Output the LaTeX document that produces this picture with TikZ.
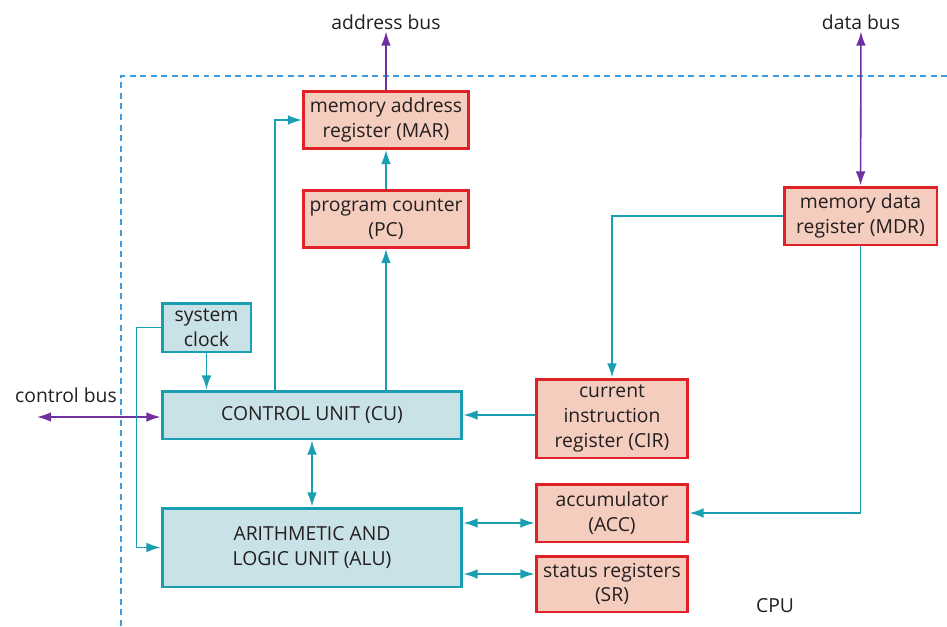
\documentclass[tikz,border=0pt]{standalone}
\usepackage{fontspec}
\setmainfont{Open Sans}
\usepackage{tikz}
\usetikzlibrary{arrows.meta, positioning, calc}

\definecolor{tealline}{HTML}{1A9FB2}
\definecolor{tealfill}{HTML}{C8E2E7}
\definecolor{redline}{HTML}{E02128}
\definecolor{redfill}{HTML}{F5CDBE}
\definecolor{buspurple}{HTML}{7030A0}
\definecolor{frameblue}{HTML}{3A9EE0}
\definecolor{inktext}{HTML}{231F20}

\begin{document}
\begin{tikzpicture}[x=0.02cm, y=-0.02cm,
    every node/.style={font=\fontsize{11}{14}\selectfont, text=inktext, align=center, inner sep=1pt},
    unitbox/.style={draw=tealline, fill=tealfill, line width=1.7pt},
    regbox/.style={draw=redline, fill=redfill, line width=1.7pt},
    link/.style={draw=tealline, line width=0.9pt, -{Latex[length=8pt,width=5.5pt]}},
    dlink/.style={draw=tealline, line width=0.9pt, {Latex[length=8pt,width=5.5pt]}-{Latex[length=8pt,width=5.5pt]}},
    bus/.style={draw=buspurple, line width=0.9pt, -{Latex[length=8pt,width=5.5pt]}},
    dbus/.style={draw=buspurple, line width=0.9pt, {Latex[length=8pt,width=5.5pt]}-{Latex[length=8pt,width=5.5pt]}}]
    \useasboundingbox (0,0) rectangle (947,626);
    \draw[frameblue, line width=1.6pt, dash pattern=on 3.4pt off 2.6pt] (121,626) -- (121,76) -- (947,76);
    \node (cpu) at (775,606) {CPU};

    \node[regbox, minimum width=3.3cm, minimum height=1.14cm] (mar) at (386,120) {memory address\\register (MAR)};
    \node[regbox, minimum width=3.3cm, minimum height=1.14cm] (pc) at (386,219) {program counter\\(PC)};
    \node[regbox, minimum width=3.06cm, minimum height=1.16cm] (mdr) at (860.5,216) {memory data\\register (MDR)};
    \node[unitbox, minimum width=1.78cm, minimum height=0.98cm] (clock) at (206.5,327.5) {system\\clock};
    \node[unitbox, minimum width=6cm, minimum height=0.96cm] (cu) at (312,415) {CONTROL UNIT (CU)};
    \node[unitbox, minimum width=6cm, minimum height=1.58cm] (alu) at (312,547.5) {ARITHMETIC AND\\LOGIC UNIT (ALU)};
    \node[regbox, minimum width=3.04cm, minimum height=1.58cm] (cir) at (612,418.5) {current\\instruction\\register (CIR)};
    \node[regbox, minimum width=3.04cm, minimum height=1.16cm] (acc) at (612,513) {accumulator\\(ACC)};
    \node[regbox, minimum width=3.04cm, minimum height=1.12cm] (sr) at (612,584) {status registers\\(SR)};

    \node (addr) at (386,22) {address bus};
    \node (data) at (861,22) {data bus};
    \node (ctrl) at (66,395) {control bus};
    \coordinate (cbus) at (37,417);

    \draw[bus] (mar) -- (addr);
    \draw[dbus] (mdr) -- (data);
    \draw[dbus] (cbus) -- (cbus -| cu.west);
    \draw[link] (pc) -- (mar);
    \draw[link] (cu.north -| pc.south) -- (pc.south);
    \draw[link] ([xshift=-0.74cm]cu.north) |- (mar.west);
    \draw[link] (clock.south) -- (clock.south |- cu.north);
    \draw[link] (clock.west) -- ++(-24,0) |- (alu.west);
    \draw[dlink] (cu) -- (alu);
    \draw[link] (cir.west |- cu.east) -- (cu.east);
    \draw[link] (mdr.west) -| (cir.north);
    \draw[link] (mdr.south) |- (acc.east);
    \draw[dlink] ([yshift=-0.2cm]acc.west -| alu.east) -- ([yshift=-0.2cm]acc.west);
    \draw[dlink] ([yshift=0.2cm]sr.west -| alu.east) -- ([yshift=0.2cm]sr.west);
\end{tikzpicture}
\end{document}
